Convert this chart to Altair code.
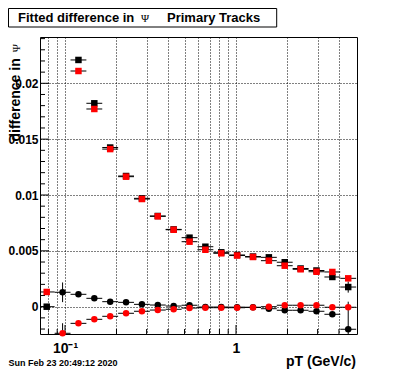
import altair as alt
import pandas as pd

# ---- bins (pT, GeV/c) ----
x_center = [0.07816, 0.09678, 0.11983, 0.14838, 0.18372, 0.22749, 0.28167, 0.34876,
            0.43184, 0.53470, 0.66207, 0.81977, 1.0153, 1.2571, 1.5565, 1.9275,
            2.3867, 2.9554, 3.6594, 4.5311]
x_low = [0.07023, 0.08697, 0.10769, 0.13335, 0.16511, 0.20445, 0.25315, 0.31346,
         0.38815, 0.48061, 0.59511, 0.73688, 0.91246, 1.1298, 1.3990, 1.7322,
         2.1448, 2.6564, 3.2885, 4.0720]
x_high = [0.08697, 0.10769, 0.13335, 0.16511, 0.20445, 0.25315, 0.31346, 0.38815,
          0.48061, 0.59511, 0.73688, 0.91246, 1.1298, 1.3990, 1.7322, 2.1448,
          2.6564, 3.2885, 4.0720, 5.0418]

# ---- series values ----
sq_black = [0.0, None, 0.02209, 0.01821, 0.01425, 0.01170, 0.00970, 0.00812, 0.00692,
            0.00618, 0.00537, 0.00487, 0.00463, 0.00449, 0.00442, 0.00398, 0.00342,
            0.00324, 0.00266, 0.00176]
sq_red = [0.00132, None, 0.02110, 0.01770, 0.01411, 0.01164, 0.00964, 0.00809, 0.00689,
          0.00582, 0.00510, 0.00478, 0.00458, 0.00445, 0.00412, 0.00367, 0.00335,
          0.00313, 0.00311, 0.00254]
ci_black = [None, 0.00129, 0.00111, 0.00075, 0.00045, 0.00039, 0.00021, 0.00015, 0.00006,
            0.00013, -0.00003, -0.00003, -0.00004, -0.00005, -0.00018, -0.00032, -0.00032,
            -0.00041, -0.00068, -0.00202]
ci_red = [None, -0.00238, -0.00149, -0.00113, -0.00086, -0.00059, -0.00041, -0.00030,
          -0.00023, -0.00012, -0.00009, -0.00009, -0.00009, -0.00007, 0.0, 0.00013,
          0.00013, 0.00013, -0.00005, -0.00005]

# ---- vertical errors ----
e_sq_black = [0.0, None, 0.0002, 0.0002, 0.0002, 0.0001, 0.0001, 0.0001, 0.0001, 0.0001,
              0.0001, 0.0001, 0.0001, 0.0001, 0.0001, 0.0001, 0.0001, 0.0002, 0.0002, 0.0005]
e_sq_red = [0.0002, None, 0.0002, 0.0002, 0.0002, 0.0001, 0.0001, 0.0001, 0.0001, 0.0001,
            0.0001, 0.0001, 0.0001, 0.0001, 0.0001, 0.0001, 0.0001, 0.0002, 0.0002, 0.0002]
e_ci_black = [None, 0.00088, 0.0002, 0.0001, 0.0001, 0.0001, 0.0001, 0.0001, 0.0001, 0.0001,
              0.0001, 0.0001, 0.0001, 0.0001, 0.0001, 0.0001, 0.0001, 0.0001, 0.0002, 0.00247]
e_ci_red = [None, 0.0009, 0.0002, 0.0001, 0.0001, 0.0001, 0.0001, 0.0001, 0.0001, 0.0001,
            0.0001, 0.0001, 0.0001, 0.0001, 0.0001, 0.0001, 0.0001, 0.0001, 0.0001, 0.0001]

# ---- axis ticks / grid ----
x_grid = [0.08, 0.09, 0.1, 0.2, 0.3, 0.4, 0.5, 0.6, 0.7, 0.8, 0.9, 1, 2, 3, 4]
x_major = [0.1, 1]
x_minor = [0.08, 0.09, 0.2, 0.3, 0.4, 0.5, 0.6, 0.7, 0.8, 0.9, 2, 3, 4]
y_grid = [0, 0.005, 0.01, 0.015, 0.02]
y_minor = [-0.002, -0.001, 0.001, 0.002, 0.003, 0.004, 0.006, 0.007, 0.008, 0.009,
           0.011, 0.012, 0.013, 0.014, 0.016, 0.017, 0.018, 0.019, 0.021, 0.022,
           0.023, 0.024]

title_parts = ["Fitted difference in", "\u03a8", "Primary Tracks"]
y_title = ["difference in", "\u03a8"]
x_title = "pT (GeV/c)"
date_text = "Sun Feb 23 20:49:12 2020"

W, H = 317, 297
FONT = "Liberation Sans, Arial, Helvetica, sans-serif"
SERIF = "Liberation Serif, DejaVu Serif, serif"

xs = alt.Scale(type="log", domain=[0.0714, 5.1], nice=False)
ys = alt.Scale(domain=[-0.002444, 0.024145], nice=False, zero=False)


def series_df(vals, errs):
    rows = []
    for i, v in enumerate(vals):
        if v is None:
            continue
        e = errs[i]
        rows.append(dict(x=x_center[i], xlo=x_low[i], xhi=x_high[i], y=v,
                         ylo=v - e, yhi=v + e))
    return pd.DataFrame(rows)


series = [
    (sq_black, e_sq_black, "square", "#000000"),
    (sq_red, e_sq_red, "square", "#ff0000"),
    (ci_black, e_ci_black, "circle", "#000000"),
    (ci_red, e_ci_red, "circle", "#ff0000"),
]

x_axis = alt.Axis(values=x_grid, grid=True, gridColor="black", gridDash=[1, 2],
                  gridOpacity=1, gridWidth=1, ticks=False, tickSize=0, domain=False,
                  labelExpr="datum.value == 0.1 ? '10\u207b\u00b9' : (datum.value == 1 ? '1' : '')",
                  labelFont=FONT, labelFontSize=14, labelFontWeight="bold",
                  labelColor="black", labelPadding=7, labelOverlap=False,
                  labelFlush=False, title=None)
y_axis = alt.Axis(values=y_grid, grid=True, gridColor="black", gridDash=[1, 2],
                  gridOpacity=1, gridWidth=1, ticks=False, tickSize=0, domain=False,
                  format=".3~f", labelFont=FONT, labelFontSize=12,
                  labelFontWeight="bold", labelColor="black", labelPadding=2,
                  title=None)

all_df = pd.concat([series_df(v, e) for v, e, _, _ in series])
layers = [
    alt.Chart(all_df).mark_point(opacity=0).encode(
        x=alt.X("x:Q", scale=xs, axis=x_axis),
        y=alt.Y("y:Q", scale=ys, axis=y_axis),
    )
]

# inward ticks
layers.append(alt.Chart(pd.DataFrame({"v": y_grid})).mark_rule(color="black").encode(
    y=alt.Y("v:Q", scale=ys, axis=None), x=alt.value(0), x2=alt.value(9)))
layers.append(alt.Chart(pd.DataFrame({"v": y_minor})).mark_rule(color="black").encode(
    y=alt.Y("v:Q", scale=ys, axis=None), x=alt.value(0), x2=alt.value(5)))
layers.append(alt.Chart(pd.DataFrame({"v": x_major})).mark_rule(color="black").encode(
    x=alt.X("v:Q", scale=xs, axis=None), y=alt.value(H - 9), y2=alt.value(H)))
layers.append(alt.Chart(pd.DataFrame({"v": x_minor})).mark_rule(color="black").encode(
    x=alt.X("v:Q", scale=xs, axis=None), y=alt.value(H - 5), y2=alt.value(H)))

for vals, errs, shape, color in series:
    d = series_df(vals, errs)
    base = alt.Chart(d)
    layers.append(base.mark_rule(color="black", strokeWidth=1, clip=True).encode(
        x=alt.X("xlo:Q", scale=xs, axis=None), x2="xhi:Q",
        y=alt.Y("y:Q", scale=ys, axis=None)))
    layers.append(base.mark_rule(color="black", strokeWidth=1, clip=True).encode(
        x=alt.X("x:Q", scale=xs, axis=None),
        y=alt.Y("ylo:Q", scale=ys, axis=None), y2="yhi:Q"))
    layers.append(base.mark_point(shape=shape, filled=True, size=42, color=color,
                                  opacity=1, strokeWidth=0).encode(
        x=alt.X("x:Q", scale=xs, axis=None),
        y=alt.Y("y:Q", scale=ys, axis=None)))

one = pd.DataFrame({"a": [0]})
# title box
layers.append(alt.Chart(one).mark_rect(fill="white", stroke="black", strokeWidth=1).encode(
    x=alt.value(-31.5), x2=alt.value(236.7), y=alt.value(-28.5), y2=alt.value(-10)))
layers.append(alt.Chart(one).mark_text(text=title_parts[0], font=FONT, fontSize=13,
                                       fontWeight="bold", align="left",
                                       baseline="alphabetic", color="black").encode(
    x=alt.value(-22), y=alt.value(-15.5)))
layers.append(alt.Chart(one).mark_text(text=title_parts[1], font=SERIF, fontSize=11,
                                       align="center", baseline="alphabetic",
                                       color="black").encode(
    x=alt.value(105), y=alt.value(-15.5)))
layers.append(alt.Chart(one).mark_text(text=title_parts[2], font=FONT, fontSize=13,
                                       fontWeight="bold", align="left",
                                       baseline="alphabetic", color="black").encode(
    x=alt.value(127), y=alt.value(-15.5)))
# y title
layers.append(alt.Chart(one).mark_text(text=y_title[0], font=FONT, fontSize=14,
                                       fontWeight="bold", align="right", angle=270,
                                       baseline="alphabetic", color="black").encode(
    x=alt.value(-20.5), y=alt.value(21.3)))
layers.append(alt.Chart(one).mark_text(text=y_title[1], font=SERIF, fontSize=11,
                                       align="center", angle=270,
                                       baseline="alphabetic", color="black").encode(
    x=alt.value(-20.5), y=alt.value(11.3)))
# x title
layers.append(alt.Chart(one).mark_text(text=x_title, font=FONT, fontSize=14,
                                       fontWeight="bold", align="right",
                                       baseline="alphabetic", color="black").encode(
    x=alt.value(316), y=alt.value(329)))
# date stamp
layers.append(alt.Chart(one).mark_text(text=date_text, font=FONT, fontSize=9,
                                       fontWeight="bold", align="left",
                                       baseline="alphabetic", color="black").encode(
    x=alt.value(-31.5), y=alt.value(329)))

chart = alt.layer(*layers).resolve_axis(x="independent", y="independent").properties(
    width=W, height=H,
    padding={"left": 32, "top": 29, "right": 31, "bottom": 38},
    autosize=alt.AutoSizeParams(type="none"),
    background="white",
).configure_view(stroke="black", strokeWidth=1)

chart.save("out.html", embed_options={"renderer": "svg", "actions": False})
